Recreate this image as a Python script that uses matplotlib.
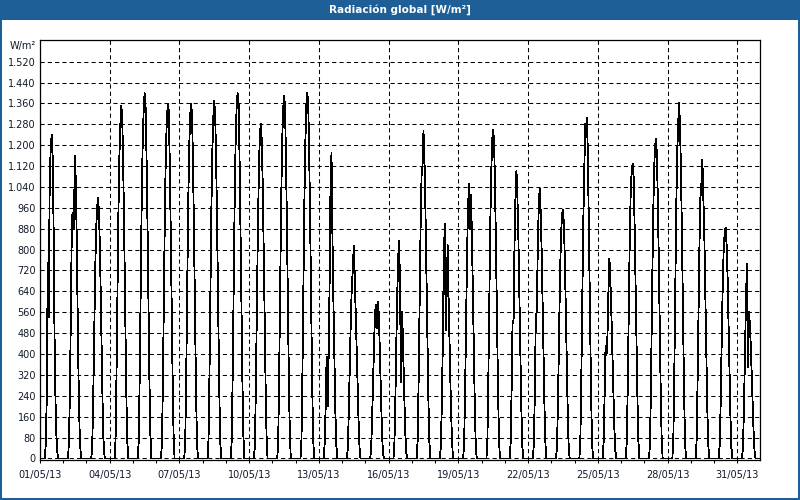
import numpy as np
import pandas as pd
import matplotlib
matplotlib.use("Agg")
import matplotlib.pyplot as plt
import matplotlib.dates as mdates
from matplotlib.patches import Rectangle
from matplotlib.ticker import FuncFormatter, FixedLocator

# --- datos ---
titulo = "Radiación global [W/m²]"
unidad = "W/m²"
inicio = "2013-05-01"
n_dias = 31
horas_sol = list(range(5, 20))  # horas con radiacion (5h..19h)

# W/m2 por hora (5h..19h), un renglon por dia
radiacion = [
    [0, 60, 240, 750, 540, 1060, 1180, 1240, 1160, 900, 470, 220, 80, 20, 0],     # 01/05
    [0, 80, 280, 620, 930, 940, 880, 1160, 1060, 820, 520, 260, 90, 20, 0],       # 02/05
    [0, 60, 240, 480, 720, 880, 960, 1000, 930, 780, 560, 320, 130, 30, 0],       # 03/05
    [0, 70, 320, 640, 950, 1160, 1280, 1350, 1290, 1100, 850, 560, 280, 80, 0],   # 04/05
    [0, 70, 330, 660, 980, 1200, 1330, 1400, 1350, 1160, 900, 600, 300, 90, 0],   # 05/05
    [0, 70, 320, 650, 960, 1180, 1300, 1360, 1330, 1130, 870, 580, 290, 80, 0],   # 06/05
    [0, 70, 320, 650, 960, 1180, 1310, 1360, 1320, 1130, 870, 580, 290, 80, 0],   # 07/05
    [0, 70, 320, 650, 960, 1180, 1310, 1370, 1300, 1120, 860, 570, 290, 80, 0],   # 08/05
    [0, 70, 330, 660, 980, 1210, 1340, 1400, 1370, 1170, 900, 600, 300, 90, 0],   # 09/05
    [0, 60, 300, 600, 880, 1090, 1240, 1280, 1220, 1050, 800, 540, 270, 80, 0],   # 10/05
    [0, 70, 330, 660, 970, 1200, 1330, 1390, 1350, 1150, 890, 590, 300, 90, 0],   # 11/05
    [0, 70, 330, 660, 980, 1210, 1350, 1400, 1360, 1160, 900, 600, 300, 90, 0],   # 12/05
    [0, 60, 200, 390, 200, 380, 650, 1040, 1170, 850, 600, 380, 180, 50, 0],      # 13/05
    [0, 50, 200, 380, 540, 660, 720, 814, 700, 560, 420, 280, 140, 40, 0],        # 14/05
    [0, 40, 160, 300, 440, 560, 590, 500, 600, 540, 400, 260, 120, 30, 0],        # 15/05
    [0, 60, 230, 450, 640, 780, 833, 560, 294, 560, 420, 270, 120, 30, 0],        # 16/05
    [0, 70, 300, 600, 880, 1080, 1120, 1253, 1150, 960, 720, 480, 240, 70, 0],    # 17/05
    [0, 50, 220, 450, 763, 897, 490, 640, 817, 600, 420, 260, 120, 30, 0],        # 18/05
    [0, 60, 260, 520, 780, 960, 1050, 880, 1008, 860, 640, 420, 200, 50, 0],      # 19/05
    [0, 70, 310, 620, 900, 1100, 1220, 1260, 1200, 1020, 780, 520, 260, 70, 0],   # 20/05
    [0, 60, 260, 528, 520, 820, 1000, 1103, 1000, 850, 640, 420, 200, 50, 0],     # 21/05
    [0, 60, 250, 547, 560, 800, 960, 1033, 950, 800, 600, 400, 190, 50, 0],       # 22/05
    [0, 60, 240, 480, 700, 850, 930, 954, 900, 760, 560, 360, 170, 40, 0],        # 23/05
    [0, 70, 310, 620, 900, 1100, 1280, 1230, 1304, 1100, 820, 540, 270, 70, 0],   # 24/05
    [0, 60, 230, 430, 394, 470, 640, 766, 680, 560, 420, 280, 130, 35, 0],        # 25/05
    [0, 70, 290, 580, 840, 1020, 1100, 1129, 1080, 900, 680, 450, 220, 60, 0],    # 26/05
    [0, 70, 300, 610, 880, 1080, 1190, 1225, 1170, 990, 760, 500, 250, 70, 0],    # 27/05
    [0, 70, 320, 650, 950, 1170, 1280, 1361, 1260, 1080, 830, 550, 280, 80, 0],   # 28/05
    [0, 60, 280, 560, 820, 1000, 1050, 1145, 1000, 860, 650, 430, 210, 60, 0],    # 29/05
    [0, 60, 230, 460, 660, 800, 860, 884, 820, 700, 520, 340, 160, 40, 0],        # 30/05
    [0, 50, 200, 400, 600, 744, 350, 560, 520, 430, 320, 200, 90, 20, 0],         # 31/05
]
yticks = list(range(0, 1521, 80))
fechas_etiqueta = ["01/05/13", "04/05/13", "07/05/13", "10/05/13", "13/05/13", "16/05/13",
                   "19/05/13", "22/05/13", "25/05/13", "28/05/13", "31/05/13"]

azul = "#1f5f97"
fuente = "DejaVu Sans"

# serie horaria completa (noche = 0)
t0 = pd.Timestamp(inicio)
tiempos = []
valores = []
for d in range(n_dias):
    for h in range(24):
        tiempos.append(t0 + pd.Timedelta(days=d, hours=h))
        if h in horas_sol:
            valores.append(radiacion[d][horas_sol.index(h)])
        else:
            valores.append(0)
x = mdates.date2num(pd.DatetimeIndex(tiempos).to_pydatetime())

fig = plt.figure(figsize=(8, 5), dpi=100)
fig.patch.set_facecolor("white")
ax = fig.add_axes([40 / 800, 1 - 460 / 500, 720 / 800, 420 / 500])

ax.plot(x, valores, color="black", lw=0.6, antialiased=False, zorder=3)

x0 = mdates.date2num(t0.to_pydatetime())
ax.set_xlim(x0, x0 + 30.98)
ax.set_ylim(-6, 1603)

ax.yaxis.set_major_locator(FixedLocator(yticks))
ax.yaxis.set_major_formatter(FuncFormatter(lambda v, p: "{:,}".format(int(v)).replace(",", ".")))

pos_etiquetas = mdates.date2num(pd.to_datetime(fechas_etiqueta, format="%d/%m/%y").to_pydatetime())
ax.xaxis.set_major_locator(FixedLocator(pos_etiquetas))
ax.xaxis.set_minor_locator(FixedLocator(x0 + np.arange(n_dias)))
ax.set_xticklabels(fechas_etiqueta)

ax.grid(True, axis="y", color="black", lw=0.75, linestyle=(0, (4, 3)))
ax.grid(True, axis="x", which="major", color="black", lw=0.75, linestyle=(0, (4, 3)))

ax.tick_params(axis="y", length=0, pad=3, labelsize=7, labelcolor="#10182a")
ax.tick_params(axis="x", which="both", length=2.5, width=0.75, direction="out", pad=5,
               labelsize=7, labelcolor="#10182a")
for lbl in ax.get_xticklabels() + ax.get_yticklabels():
    lbl.set_fontfamily(fuente)
for s in ax.spines.values():
    s.set_linewidth(0.9)
    s.set_color("black")

# etiqueta de unidades
fig.text(36 / 800, 1 - 46 / 500, unidad, ha="right", va="center", fontsize=7,
         family=fuente, color="#10182a")

# barra de titulo y marco azul
fig.patches.append(Rectangle((0, 1 - 20 / 500), 1, 20 / 500, transform=fig.transFigure,
                             facecolor=azul, edgecolor="none", zorder=0))
fig.patches.append(Rectangle((0, 0), 1, 1, transform=fig.transFigure, fill=False,
                             edgecolor=azul, lw=2.9, zorder=5))
fig.text(0.5, 1 - 10 / 500, titulo, ha="center", va="center", fontsize=7.5,
         fontweight="bold", color="white", family=fuente)

fig.savefig("out.png", dpi=100)
